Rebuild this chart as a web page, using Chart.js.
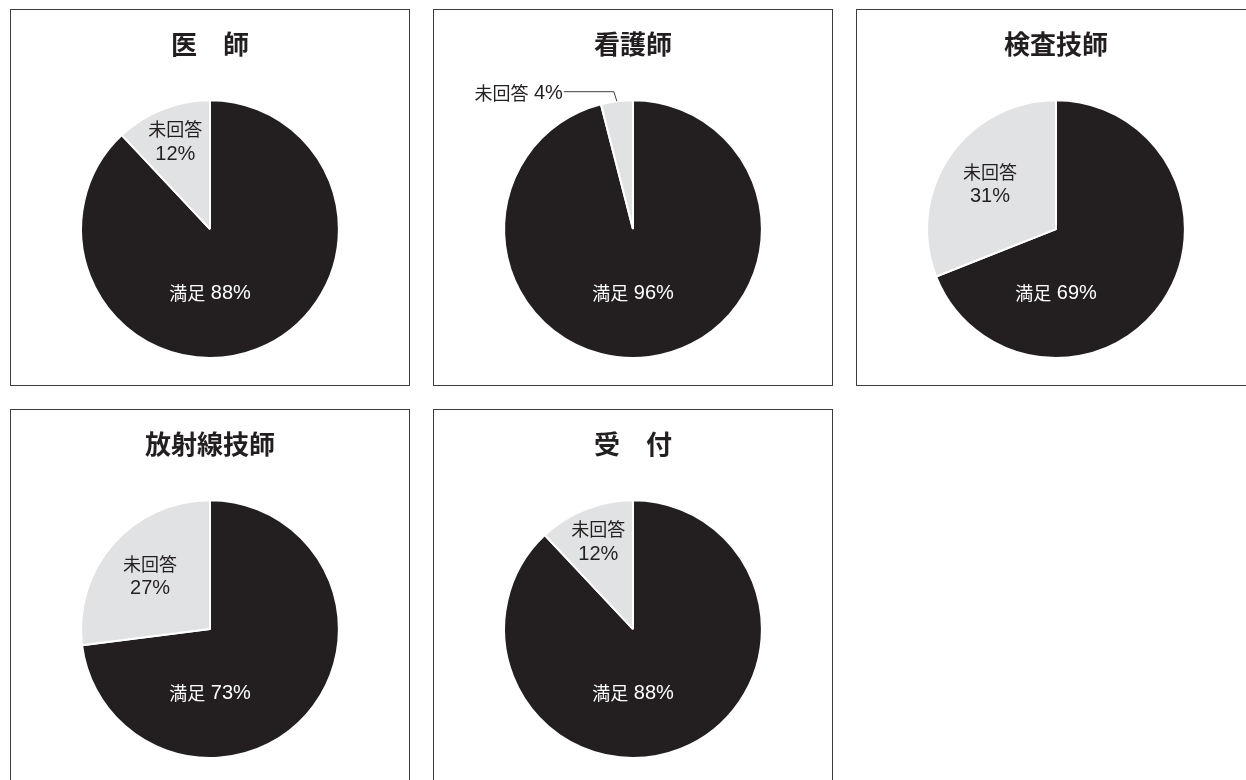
<!DOCTYPE html>
<html lang="ja">
<head>
<meta charset="utf-8">
<title>職種別 満足度</title>
<script src="https://cdn.jsdelivr.net/npm/chart.js@4/dist/chart.umd.min.js"></script>
<style>
  html, body { margin: 0; padding: 0; background: #ffffff; }
  body { width: 1246px; height: 780px; overflow: hidden; position: relative; }
  .panel {
    position: absolute; box-sizing: border-box;
    width: 400px; height: 377px;
    border: 1px solid #3d3d3d; background: #ffffff;
  }
  .panel canvas { display: block; }
</style>
</head>
<body>
<div class="panel" style="left:10px; top:9px;"><canvas id="c0" width="398" height="375"></canvas></div>
<div class="panel" style="left:433px; top:9px;"><canvas id="c1" width="398" height="375"></canvas></div>
<div class="panel" style="left:856px; top:9px;"><canvas id="c2" width="398" height="375"></canvas></div>
<div class="panel" style="left:10px; top:409px;"><canvas id="c3" width="398" height="375"></canvas></div>
<div class="panel" style="left:433px; top:409px;"><canvas id="c4" width="398" height="375"></canvas></div>

<script>
// Survey results per staff group (percent)
const titles = ['医　師', '看護師', '検査技師', '放射線技師', '受　付'];
const categories = ['満足', '未回答'];
const satisfied = [88, 96, 69, 73, 88];
const noAnswer = [12, 4, 31, 27, 12];

// Drawing styles
const DARK = '#231f20';
const LIGHT = '#e1e2e4';
const CJK_FONT = '18px "Noto Sans CJK JP", sans-serif';
const LATIN_FONT = '20px "Liberation Sans", Arial, sans-serif';
const TITLE_FONT = '"Noto Sans CJK JP", sans-serif';

// Where the 未回答 label sits, as a fraction of the radius along the slice's mid-angle;
// 'outside' puts it above the pie with a leader line.
const noAnswerLabelPlace = [0.73, 'outside', 0.62, 0.62, 0.73];

// Split a string into runs of Japanese and Latin characters, each with its own font
function toRuns(str) {
  const runs = [];
  for (const ch of str) {
    const font = /[\u3000-\u9fff]/.test(ch) ? CJK_FONT : LATIN_FONT;
    if (runs.length && runs[runs.length - 1].font === font) runs[runs.length - 1].text += ch;
    else runs.push({ text: ch, font });
  }
  return runs;
}

// Draw mixed-font text; align is 'left' | 'center' | 'right'
function drawMixed(ctx, str, x, y, align) {
  const runs = toRuns(str);
  let total = 0;
  runs.forEach(r => { ctx.font = r.font; r.w = ctx.measureText(r.text).width; total += r.w; });
  let cx = align === 'center' ? x - total / 2 : align === 'right' ? x - total : x;
  ctx.textAlign = 'left';
  ctx.textBaseline = 'middle';
  runs.forEach(r => { ctx.font = r.font; ctx.fillText(r.text, cx, y); cx += r.w; });
}

const sliceLabels = {
  id: 'sliceLabels',
  afterDatasetsDraw(chart, args, opts) {
    const ctx = chart.ctx;
    const meta = chart.getDatasetMeta(0);
    const values = chart.data.datasets[0].data;
    const names = chart.data.labels;
    const place = opts.place;
    ctx.save();

    // 満足 — white text below the centre
    const a0 = meta.data[0];
    ctx.fillStyle = '#ffffff';
    drawMixed(ctx, names[0] + ' ' + values[0] + '%', a0.x, a0.y + a0.outerRadius * 0.5, 'center');

    // 未回答
    const a1 = meta.data[1];
    const mid = (a1.startAngle + a1.endAngle) / 2;
    ctx.fillStyle = DARK;
    if (place === 'outside') {
      const ex = a1.x + Math.cos(mid) * a1.outerRadius;
      const ey = a1.y + Math.sin(mid) * a1.outerRadius;
      const elbowX = ex - 3, elbowY = ey - 10;
      const endX = elbowX - 50;
      ctx.strokeStyle = '#3d3d3d';
      ctx.lineWidth = 1;
      ctx.beginPath();
      ctx.moveTo(ex, ey);
      ctx.lineTo(elbowX, elbowY + 0.5);
      ctx.lineTo(endX, elbowY + 0.5);
      ctx.stroke();
      drawMixed(ctx, names[1] + ' ' + values[1] + '%', endX - 1, elbowY + 2, 'right');
    } else {
      const r = a1.outerRadius * place;
      const lx = a1.x + Math.cos(mid) * r;
      const ly = a1.y + Math.sin(mid) * r;
      drawMixed(ctx, names[1], lx, ly - 12.5, 'center');
      drawMixed(ctx, values[1] + '%', lx, ly + 12.5, 'center');
    }
    ctx.restore();
  }
};

titles.forEach((title, i) => {
  new Chart(document.getElementById('c' + i), {
    type: 'pie',
    data: {
      labels: categories,
      datasets: [{
        data: [satisfied[i], noAnswer[i]],
        backgroundColor: [DARK, LIGHT],
        borderColor: '#ffffff',
        borderWidth: 2
      }]
    },
    options: {
      responsive: false,
      animation: false,
      layout: { padding: { top: 0, bottom: 26, left: 0, right: 0 } },
      plugins: {
        legend: { display: false },
        tooltip: { enabled: false },
        title: {
          display: true,
          text: title,
          color: DARK,
          font: { family: TITLE_FONT, size: 26, weight: 'bold', lineHeight: 1.2 },
          padding: { top: 19, bottom: 39 }
        },
        sliceLabels: { place: noAnswerLabelPlace[i] }
      }
    },
    plugins: [sliceLabels]
  });
});
</script>
</body>
</html>
